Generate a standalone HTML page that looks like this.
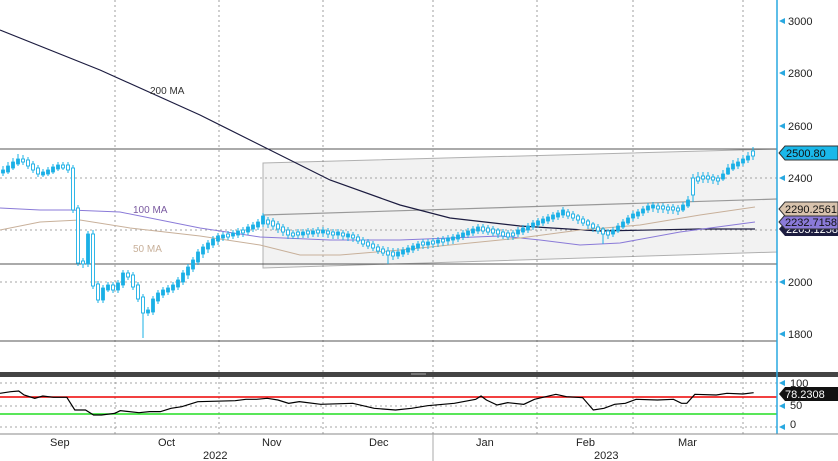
<!DOCTYPE html>
<html><head><meta charset="utf-8"><style>
html,body{margin:0;padding:0;background:#fff;}
svg{display:block;font-family:"Liberation Sans",sans-serif;}
</style></head><body>
<svg width="838" height="461" viewBox="0 0 838 461" xmlns="http://www.w3.org/2000/svg">
<rect width="838" height="461" fill="#fff"/>
<polygon points="263,163 777,149 777,252 263,268" fill="#f2f2f2" stroke="#b0b0b0" stroke-width="1"/>
<line x1="263" y1="215" x2="777" y2="199" stroke="#999" stroke-width="1.2"/>
<g stroke="#888" stroke-dasharray="2,3" stroke-width="0.8">
<line x1="0" y1="178" x2="777" y2="178"/>
<line x1="0" y1="230" x2="777" y2="230"/>
<line x1="0" y1="282" x2="777" y2="282"/>
<line x1="115" y1="0" x2="115" y2="372"/>
<line x1="219" y1="0" x2="219" y2="372"/>
<line x1="323" y1="0" x2="323" y2="372"/>
<line x1="433" y1="0" x2="433" y2="372"/>
<line x1="537" y1="0" x2="537" y2="372"/>
<line x1="633" y1="0" x2="633" y2="372"/>
<line x1="743" y1="0" x2="743" y2="372"/>
<line x1="115" y1="377" x2="115" y2="434"/>
<line x1="219" y1="377" x2="219" y2="434"/>
<line x1="323" y1="377" x2="323" y2="434"/>
<line x1="433" y1="377" x2="433" y2="434"/>
<line x1="537" y1="377" x2="537" y2="434"/>
<line x1="633" y1="377" x2="633" y2="434"/>
<line x1="743" y1="377" x2="743" y2="434"/>
<line x1="0" y1="383" x2="777" y2="383"/>
<line x1="0" y1="406" x2="777" y2="406"/>
<line x1="0" y1="427" x2="777" y2="427"/>
</g>
<line x1="0" y1="149" x2="777" y2="149" stroke="#555" stroke-width="1"/>
<line x1="0" y1="264" x2="777" y2="264" stroke="#555" stroke-width="1"/>
<line x1="0" y1="341" x2="777" y2="341" stroke="#555" stroke-width="1"/>
<polyline fill="none" stroke="#1c1c40" stroke-width="1.2" points="0,30 100,70 200,115 260,145 330,180 400,205 450,218 520,226 600,231 700,229 755,229"/>
<polyline fill="none" stroke="#8a7ad8" stroke-width="1" points="0,208 40,210 70,210 120,212 200,228 260,237 330,240 400,240 450,238 500,236 540,240 580,245 620,243 680,232 755,222"/>
<polyline fill="none" stroke="#c8b09a" stroke-width="1" points="0,230 40,222 80,220 130,228 200,236 260,245 300,255 340,255 400,250 450,245 520,238 580,230 640,225 700,215 755,207"/>
<text x="150" y="94" font-size="10" fill="#333">200 MA</text>
<text x="133" y="213" font-size="10" fill="#7a5aa0">100 MA</text>
<text x="133" y="252" font-size="10" fill="#c8b09a">50 MA</text>
<!-- wicks -->
<path fill="none" stroke="#1ab0e6" stroke-width="1" d="M3 166V176M8 162V174M13 158V170M18 154V166M23 155V165M28 157V169M33 161V173M38 165V177M43 169V177M48 167V176M53 164V174M58 162V171M63 162V170M68 162V173M73 165V213M78 205V266M83 258V268M88 231V267M93 230V289M98 281V303M103 285V303M108 282V292M113 282V293M118 280V293M123 270V288M128 270V280M133 272V290M138 282V302M143 294V338M148 307V316M153 296V315M158 290V304M163 287V298M168 285V295M173 282V293M178 277V290M183 270V285M188 264V279M193 257V272M198 249V265M203 244V258M208 240V253M213 236V248M218 233V245M223 232V241M228 231V240M233 230V239M238 228V238M243 227V237M248 224V235M253 222V232M258 219V230M263 213V227M268 217V228M273 218V230M278 221V233M283 224V236M288 227V239M293 230V239M298 229V239M303 229V238M308 228V238M313 228V237M318 227V237M323 227V237M328 228V238M333 229V239M338 229V239M343 230V240M348 231V241M353 232V242M358 234V244M363 237V247M368 239V249M373 241V251M378 244V254M383 246V256M388 247V264M393 248V260M398 248V259M403 247V257M408 245V255M413 243V253M418 241V251M423 239V249M428 239V249M433 238V248M438 237V247M443 236V246M448 235V245M453 234V244M458 232V242M463 230V240M468 228V238M473 226V236M478 224V234M483 224V234M488 225V235M493 226V236M498 228V238M503 229V239M508 230V240M513 230V240M518 227V237M523 225V235M528 223V233M533 220V230M538 218V228M543 216V226M548 214V224M553 212V222M558 210V220M563 207V218M568 209V219M573 211V221M578 214V224M583 216V226M588 219V229M593 222V232M598 224V234M603 227V244M608 229V239M613 227V237M618 223V233M623 219V229M628 215V225M633 211V221M638 209V219M643 206V216M648 203V213M653 202V212M658 203V213M663 203V213M668 204V214M673 204V214M678 205V215M683 202V212M688 196V208M693 174V202M698 172V184M703 172V183M708 172V183M713 174V184M718 175V185M723 170V181M728 164V175M733 160V171M738 158V169M743 155V166M748 152V163M753 147V160"/>
<!-- filled bodies -->
<g fill="#1ab0e6" stroke="#1ab0e6" stroke-width="0.8">
<rect x="1.5" y="170" width="3" height="3"/><rect x="6.5" y="166" width="3" height="6"/><rect x="11.5" y="162" width="3" height="6"/><rect x="16.5" y="159" width="3" height="5"/>
<rect x="41.5" y="172" width="3" height="3"/><rect x="46.5" y="170" width="3" height="4"/><rect x="51.5" y="167" width="3" height="5"/><rect x="56.5" y="165" width="3" height="4"/>
<rect x="86.5" y="234" width="3" height="30"/><rect x="101.5" y="288" width="3" height="12"/><rect x="106.5" y="285" width="3" height="5"/><rect x="116.5" y="283" width="3" height="7"/><rect x="121.5" y="273" width="3" height="12"/>
<rect x="146.5" y="310" width="3" height="3"/><rect x="151.5" y="299" width="3" height="13"/><rect x="156.5" y="293" width="3" height="8"/><rect x="161.5" y="290" width="3" height="5"/><rect x="166.5" y="288" width="3" height="4"/><rect x="171.5" y="285" width="3" height="5"/><rect x="176.5" y="280" width="3" height="7"/><rect x="181.5" y="273" width="3" height="9"/><rect x="186.5" y="267" width="3" height="8"/><rect x="191.5" y="260" width="3" height="9"/><rect x="196.5" y="252" width="3" height="10"/><rect x="201.5" y="247" width="3" height="7"/><rect x="206.5" y="243" width="3" height="6"/><rect x="211.5" y="239" width="3" height="6"/><rect x="216.5" y="236" width="3" height="5"/><rect x="221.5" y="235" width="3" height="3"/><rect x="231.5" y="233" width="3" height="3"/><rect x="236.5" y="231" width="3" height="4"/><rect x="246.5" y="227" width="3" height="5"/><rect x="251.5" y="225" width="3" height="4"/><rect x="256.5" y="222" width="3" height="5"/><rect x="261.5" y="216" width="3" height="8"/>
<rect x="301.5" y="232" width="3" height="3"/><rect x="311.5" y="231" width="3" height="3"/><rect x="321.5" y="230" width="3" height="3"/><rect x="336.5" y="232" width="3" height="3"/><rect x="346.5" y="234" width="3" height="3"/>
<rect x="396.5" y="252" width="3" height="4"/><rect x="401.5" y="250" width="3" height="4"/><rect x="406.5" y="248" width="3" height="4"/><rect x="411.5" y="246" width="3" height="4"/><rect x="416.5" y="244" width="3" height="4"/><rect x="426.5" y="242" width="3" height="3"/><rect x="436.5" y="240" width="3" height="3"/><rect x="446.5" y="238" width="3" height="3"/><rect x="451.5" y="237" width="3" height="3"/><rect x="456.5" y="235" width="3" height="4"/><rect x="461.5" y="233" width="3" height="4"/><rect x="466.5" y="231" width="3" height="4"/><rect x="471.5" y="229" width="3" height="4"/><rect x="476.5" y="227" width="3" height="4"/>
<rect x="516.5" y="230" width="3" height="4"/><rect x="521.5" y="228" width="3" height="4"/><rect x="526.5" y="226" width="3" height="4"/><rect x="531.5" y="223" width="3" height="4"/><rect x="536.5" y="221" width="3" height="4"/><rect x="541.5" y="219" width="3" height="4"/><rect x="546.5" y="217" width="3" height="4"/><rect x="551.5" y="215" width="3" height="4"/><rect x="556.5" y="213" width="3" height="4"/><rect x="561.5" y="210" width="3" height="5"/>
<rect x="611.5" y="230" width="3" height="4"/><rect x="616.5" y="226" width="3" height="5"/><rect x="621.5" y="222" width="3" height="5"/><rect x="626.5" y="218" width="3" height="5"/><rect x="631.5" y="214" width="3" height="4"/><rect x="636.5" y="212" width="3" height="4"/><rect x="641.5" y="209" width="3" height="4"/><rect x="646.5" y="206" width="3" height="4"/><rect x="651.5" y="205" width="3" height="3"/><rect x="681.5" y="205" width="3" height="5"/><rect x="686.5" y="200" width="3" height="6"/><rect x="721.5" y="174" width="3" height="5"/><rect x="726.5" y="168" width="3" height="6"/><rect x="731.5" y="164" width="3" height="5"/><rect x="736.5" y="162" width="3" height="4"/><rect x="741.5" y="159" width="3" height="4"/><rect x="746.5" y="156" width="3" height="4"/>
</g>
<!-- hollow bodies -->
<g fill="#fff" stroke="#1ab0e6" stroke-width="0.9">
<rect x="21.5" y="159" width="3" height="3"/><rect x="26.5" y="160" width="3" height="6"/><rect x="31.5" y="164" width="3" height="6"/><rect x="36.5" y="168" width="3" height="6"/>
<rect x="61.5" y="165" width="3" height="3"/><rect x="66.5" y="165" width="3" height="5"/><rect x="71.5" y="168" width="3" height="42"/><rect x="76.5" y="208" width="3" height="55"/><rect x="81.5" y="261" width="3" height="3"/><rect x="91.5" y="234" width="3" height="52"/><rect x="96.5" y="284" width="3" height="16"/><rect x="111.5" y="285" width="3" height="5"/><rect x="126.5" y="273" width="3" height="4"/><rect x="131.5" y="275" width="3" height="12"/><rect x="136.5" y="285" width="3" height="14"/><rect x="141.5" y="297" width="3" height="16"/>
<rect x="226.5" y="234" width="3" height="3"/><rect x="241.5" y="230" width="3" height="3"/><rect x="266.5" y="220" width="3" height="4"/><rect x="271.5" y="221" width="3" height="5"/><rect x="276.5" y="224" width="3" height="5"/><rect x="281.5" y="227" width="3" height="5"/><rect x="286.5" y="230" width="3" height="5"/><rect x="291.5" y="233" width="3" height="3"/><rect x="296.5" y="232" width="3" height="3"/><rect x="306.5" y="231" width="3" height="3"/><rect x="316.5" y="230" width="3" height="3"/><rect x="326.5" y="231" width="3" height="3"/><rect x="331.5" y="232" width="3" height="3"/><rect x="341.5" y="233" width="3" height="3"/>
<rect x="351.5" y="235" width="3" height="3"/><rect x="356.5" y="237" width="3" height="4"/><rect x="361.5" y="240" width="3" height="4"/><rect x="366.5" y="242" width="3" height="4"/><rect x="371.5" y="244" width="3" height="4"/><rect x="376.5" y="247" width="3" height="4"/><rect x="381.5" y="249" width="3" height="4"/><rect x="386.5" y="251" width="3" height="4"/><rect x="391.5" y="252" width="3" height="4"/><rect x="421.5" y="242" width="3" height="3"/><rect x="431.5" y="241" width="3" height="3"/><rect x="441.5" y="239" width="3" height="3"/>
<rect x="481.5" y="227" width="3" height="4"/><rect x="486.5" y="228" width="3" height="4"/><rect x="491.5" y="229" width="3" height="4"/><rect x="496.5" y="230" width="3" height="4"/><rect x="501.5" y="232" width="3" height="4"/><rect x="506.5" y="233" width="3" height="4"/><rect x="511.5" y="233" width="3" height="3"/>
<rect x="566.5" y="212" width="3" height="4"/><rect x="571.5" y="214" width="3" height="4"/><rect x="576.5" y="216" width="3" height="4"/><rect x="581.5" y="219" width="3" height="4"/><rect x="586.5" y="221" width="3" height="4"/><rect x="591.5" y="224" width="3" height="4"/><rect x="596.5" y="227" width="3" height="4"/><rect x="601.5" y="229" width="3" height="5"/><rect x="606.5" y="231" width="3" height="4"/>
<rect x="656.5" y="206" width="3" height="3"/><rect x="661.5" y="206" width="3" height="3"/><rect x="666.5" y="207" width="3" height="3"/><rect x="671.5" y="207" width="3" height="3"/><rect x="676.5" y="208" width="3" height="3"/><rect x="691.5" y="178" width="3" height="17"/><rect x="696.5" y="177" width="3" height="4"/><rect x="701.5" y="176" width="3" height="3"/><rect x="706.5" y="176" width="3" height="3"/><rect x="711.5" y="177" width="3" height="3"/><rect x="716.5" y="178" width="3" height="3"/><rect x="751.5" y="151" width="3" height="5"/>
</g>
<rect x="0" y="372" width="838" height="5" fill="#444"/>
<line x1="411" y1="374" x2="426" y2="374" stroke="#aaa"/>
<line x1="0" y1="397" x2="777" y2="397" stroke="#e00" stroke-width="1.5"/>
<line x1="0" y1="414" x2="777" y2="414" stroke="#2d2" stroke-width="1.5"/>
<g transform="translate(0,360) scale(0.5345,0.3333)">
<polyline fill="none" stroke="#000" stroke-width="1.2" vector-effect="non-scaling-stroke" points="0,100 20,95 35,93 45,105 65,115 80,108 100,112 125,112 140,150 160,150 175,165 190,165 215,160 225,152 260,158 280,155 300,155 320,145 340,140 370,125 440,122 460,118 480,118 500,115 520,120 540,130 560,125 600,133 660,130 700,145 740,150 770,145 800,137 850,130 890,118 900,108 910,120 930,135 950,128 980,133 1000,118 1040,103 1060,110 1090,113 1110,150 1130,145 1150,133 1170,130 1190,118 1230,120 1260,118 1275,130 1285,130 1300,103 1340,105 1360,100 1390,102 1410,98"/>
</g>
<line x1="777" y1="0" x2="777" y2="434" stroke="#29a8e0" stroke-width="1.5"/>
<line x1="0" y1="434" x2="838" y2="434" stroke="#888"/>
<line x1="433" y1="434" x2="433" y2="461" stroke="#aaa"/>
<g font-size="11" fill="#222">
<text x="788" y="25">3000</text><text x="788" y="77">2800</text><text x="788" y="130">2600</text>
<text x="788" y="182">2400</text><text x="788" y="286">2000</text><text x="788" y="338">1800</text>
<text x="790" y="387">100</text><text x="790" y="409">50</text><text x="790" y="428">0</text>
<text x="50" y="446">Sep</text><text x="158" y="446">Oct</text><text x="262" y="446">Nov</text>
<text x="369" y="446">Dec</text><text x="476" y="446">Jan</text><text x="576" y="446">Feb</text>
<text x="678" y="446">Mar</text><text x="203" y="459">2022</text><text x="594" y="459">2023</text>
</g>
<g fill="#29a8e0">
<polygon points="779,21 785,18 785,24"/><polygon points="779,73 785,70 785,76"/><polygon points="779,126 785,123 785,129"/>
<polygon points="779,178 785,175 785,181"/><polygon points="779,282 785,279 785,285"/><polygon points="779,334 785,331 785,337"/>
<polygon points="779,383 785,380 785,386"/><polygon points="779,406 785,403 785,409"/><polygon points="779,427 785,424 785,430"/>
</g>
<g font-size="11">
<polygon points="779,229 785,222 838,222 838,236 785,236" fill="#1c1c40"/><text x="786" y="233" fill="#fff">2205.1258</text>
<polygon points="779,222 785,215 838,215 838,229 785,229" fill="#8a7ad8" stroke="#333"/><text x="785" y="226" fill="#111">2232.7158</text>
<polygon points="779,209 785,202 838,202 838,216 785,216" fill="#d8c3ad" stroke="#333"/><text x="785" y="213" fill="#111">2290.2561</text>
<polygon points="779,153 785,146 838,146 838,160 785,160" fill="#1ab8ea" stroke="#333"/><text x="786" y="157" fill="#111">2500.80</text>
<polygon points="779,394 785,387 838,387 838,401 785,401" fill="#111"/><text x="785" y="398" fill="#fff">78.2308</text>
</g>
</svg>
</body></html>
